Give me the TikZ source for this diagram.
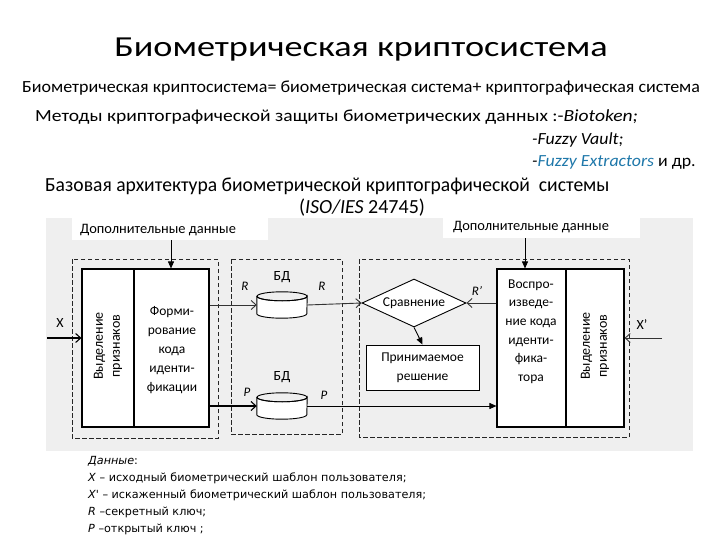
\documentclass[tikz,border=0pt]{standalone}
\usepackage{fontspec}
\usepackage{graphicx}
\setmainfont{Carlito}
\newfontfamily\legfont{DejaVu Sans}
\usetikzlibrary{shapes.geometric,arrows.meta}
\definecolor{bggray}{RGB}{239,239,239}
\definecolor{fuzzyblue}{RGB}{31,120,170}
\tikzset{
  fs/.style={font=\fontsize{#1}{#1}\selectfont},
  lbl/.style={font=\fontsize{13.5}{19}\selectfont, align=center, inner sep=0},
  dbox/.style={draw=black!85, line width=0.9pt, dash pattern=on 4.5pt off 2.5pt},
  sbox/.style={draw=black, line width=1.1pt},
  openarr/.style={draw=black!80, line width=0.9pt, -{Straight Barb[length=5pt,width=9pt]}},
  fillarr/.style={draw=black, line width=0.9pt, -{Triangle[length=7pt,width=6pt]}},
  leg/.style={font=\legfont\fontsize{11.2}{12}\selectfont, anchor=west, inner sep=0},
}
\begin{document}
\begin{tikzpicture}[x=1pt,y=-1pt]
\useasboundingbox (0,0) rectangle (720,540);
\fill[white] (0,0) rectangle (720,540);
% titles
\node[fs=29, inner sep=0] (title) at (361,50) {\scalebox{1.25}[1]{Биометрическая криптосистема}};
\node[fs=17, anchor=west, inner sep=0] (l2) at (22,88) {\scalebox{1.06}[1]{Биометрическая криптосистема= биометрическая система+ криптографическая система}};
\node[fs=17, anchor=west, inner sep=0] (l3) at (35,117) {\scalebox{1.15}[1]{Методы криптографической защиты биометрических данных :-\textit{Biotoken;}}};
\node[fs=17, anchor=west, inner sep=0] (l4) at (532,140) {\scalebox{1.05}[1]{\textit{-Fuzzy Vault;}}};
\node[fs=17, anchor=west, inner sep=0] (l5) at (532,162) {\scalebox{1.05}[1]{\textit{-\textcolor{fuzzyblue}{Fuzzy Extractors}} и др.}};
\node[fs=20, anchor=west, inner sep=0] (l6) at (45,186) {\scalebox{0.98}[1]{Базовая архитектура биометрической криптографической~ системы}};
\node[fs=20, inner sep=0] (l7) at (362,208) {(\textit{ISO/IES} 24745)};
% background
\fill[bggray] (46,218) rectangle (693,451);
\fill[white] (72,217) rectangle (268,240);
\fill[white] (443,215) rectangle (640,238);
\node[lbl, font=\fontsize{14.4}{16}\selectfont, anchor=west] (add1) at (80,230) {Дополнительные данные};
\node[lbl, font=\fontsize{14.4}{16}\selectfont, anchor=west] (add2) at (453,227) {Дополнительные данные};
\coordinate (add1s) at (171,240);
\coordinate (add2s) at (525,238);
% dashed groups
\draw[dbox] (72,259) rectangle (218,438);
\draw[dbox] (231,259) rectangle (342,434);
\draw[dbox] (359,259) rectangle (629,437);
% left block
\node[sbox, fill=white, minimum width=127pt, minimum height=158pt, inner sep=0] (enc) at (145.5,348) {};
\draw[line width=1.1pt] (134,269) -- (134,427);
\node[lbl, font=\fontsize{14}{17}\selectfont, rotate=90] (fe1) at (108,346) {Выделение\\признаков};
\node[lbl] (form) at (172,350) {Форми-\\рование\\кода\\иденти-\\фикации};
% databases
\node[inner sep=0, minimum width=50pt, minimum height=26pt] (db1) at (282,305) {};
\node[inner sep=0, minimum width=50pt, minimum height=26pt] (db2) at (282,406) {};
\foreach \d in {db1,db2}{
  \draw[line width=0.9pt, fill=white] ([yshift=-4.5pt]\d.north west) -- ([yshift=4.5pt]\d.south west)
     arc[start angle=180, end angle=0, x radius=25, y radius=4.5] -- ([yshift=-4.5pt]\d.north east)
     arc[start angle=0, end angle=180, x radius=25, y radius=4.5] -- cycle;
  \draw[line width=0.9pt] ([yshift=-4.5pt]\d.north) ellipse[x radius=25, y radius=4.5];
}
\node[lbl, font=\fontsize{14}{16}\selectfont] (bd1) at (282,277) {БД};
\node[lbl, font=\fontsize{14}{16}\selectfont] (bd2) at (282,377) {БД};
\node[lbl, font=\fontsize{13}{15}\selectfont\itshape] (r1) at (245,286) {R};
\node[lbl, font=\fontsize{13}{15}\selectfont\itshape] (r2) at (322,286) {R};
\node[lbl, font=\fontsize{13}{15}\selectfont\itshape] (p1) at (247,392) {P};
\node[lbl, font=\fontsize{13}{15}\selectfont\itshape] (p2) at (324,395) {P};
% right group
\node[diamond, draw, line width=0.9pt, fill=white, minimum width=104pt, minimum height=48pt, inner sep=0, aspect=2.2, font=\fontsize{13.5}{15}\selectfont] (cmp) at (414,303) {Сравнение};
\node[sbox, fill=white, line width=0.9pt, minimum width=113pt, minimum height=45pt, inner sep=0, align=center, font=\fontsize{13.5}{19}\selectfont] (dec) at (422.5,367.5) {Принимаемое\\решение};
\node[sbox, fill=white, minimum width=127pt, minimum height=158pt, inner sep=0] (dcd) at (560.5,348) {};
\draw[line width=1.1pt] (566,269) -- (566,427);
\node[lbl, font=\fontsize{13.5}{18.6}\selectfont] (rep) at (531,331.5) {Воспро-\\изведе-\\ние кода\\иденти-\\фика-\\тора};
\node[lbl, font=\fontsize{14}{17}\selectfont, rotate=90] (fe2) at (595,346) {Выделение\\признаков};
\node[lbl, font=\fontsize{13}{15}\selectfont\itshape] (rp) at (477,291) {R'};
% inputs
\coordinate (xin) at (47,338);
\coordinate (xpin) at (662,338);
\node[lbl, font=\fontsize{14}{16}\selectfont] (xl) at (60,323) {X};
\node[lbl, font=\fontsize{14}{16}\selectfont] (xpl) at (642,325) {X'};
% connectors
\draw[fillarr] (add1s) -- (add1s |- enc.north);
\draw[fillarr] (add2s) -- (add2s |- dcd.north);
\draw[openarr, draw=black, line width=1.1pt] (xin) -- (xin -| enc.west);
\draw[openarr] (xpin) -- (xpin -| dcd.east);
\draw[openarr] (enc.east |- db1.west) -- (db1.west);
\draw[openarr] (db1.east) -- (cmp.west);
\draw[openarr] (dcd.west |- cmp.east) -- (cmp.east);
\draw[openarr, draw=black, line width=1.1pt] (enc.east |- db2.west) -- (db2.west);
\draw[fillarr, line width=0.8pt] (db2.east) -- (db2.east -| dcd.west);
\draw[fillarr] (cmp.south) -- (dec.north);
% legend
\node[leg] (g0) at (88,461) {\textit{Данные}:};
\node[leg] (g1) at (88,478) {\textit{X} – исходный биометрический шаблон пользователя;};
\node[leg] (g2) at (88,495) {\textit{X'} – искаженный биометрический шаблон пользователя;};
\node[leg] (g3) at (88,512) {\textit{R} –секретный ключ;};
\node[leg] (g4) at (88,529) {\textit{P} –открытый ключ ;};
\end{tikzpicture}
\end{document}
